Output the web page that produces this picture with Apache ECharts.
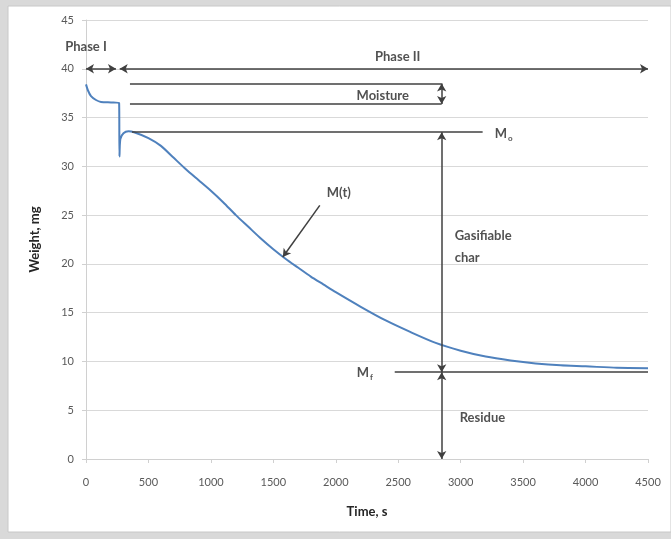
<!DOCTYPE html>
<html>
<head>
<meta charset="utf-8">
<script src="https://cdn.jsdelivr.net/npm/echarts@6/dist/echarts.min.js"></script>
<style>
  html, body { margin: 0; padding: 0; background: #d9d9d9; }
  #main { width: 671px; height: 539px; }
</style>
</head>
<body>
<div id="main"></div>
<script>
// weight curve (time s, weight mg)
var times = [0, 15, 40, 80, 120, 200, 265, 268, 275, 300, 340, 385, 500, 600, 700, 800, 900,
  1000, 1100, 1200, 1300, 1400, 1500, 1600, 1700, 1800, 1900, 2000, 2200, 2400, 2600, 2800,
  3000, 3200, 3400, 3600, 3800, 4000, 4250, 4500];
var weights = [38.4, 37.8, 37.2, 36.8, 36.6, 36.55, 36.5, 31.0, 32.8, 33.4, 33.6, 33.5, 32.9, 32.1, 30.9, 29.7, 28.6,
  27.5, 26.3, 25.0, 23.8, 22.6, 21.5, 20.5, 19.6, 18.7, 17.9, 17.1, 15.6, 14.2, 13.0, 11.9,
  11.1, 10.5, 10.1, 9.8, 9.6, 9.5, 9.35, 9.3];

var xTicks = [0, 500, 1000, 1500, 2000, 2500, 3000, 3500, 4000, 4500];
var yTicks = [0, 5, 10, 15, 20, 25, 30, 35, 40, 45];

// annotation segments in data units: [t1, w1, t2, w2, startSymbol, endSymbol]
var segments = [
  [0, 40, 240, 40, 'arrow', 'arrow'],
  [270, 40, 4500, 40, 'arrow', 'arrow'],
  [352, 38.5, 2848, 38.5, 'none', 'none'],
  [352, 36.4, 2848, 36.4, 'none', 'none'],
  [2848, 38.5, 2848, 36.4, 'arrow', 'arrow'],
  [368, 33.5, 3176, 33.5, 'none', 'none'],
  [2848, 33.5, 2848, 8.9, 'arrow', 'arrow'],
  [2848, 8.9, 2848, 0, 'arrow', 'arrow'],
  [2472, 8.9, 4500, 8.9, 'none', 'none'],
  [1872, 26.0, 1576, 20.7, 'none', 'arrow']
];

// text labels: [text, t, w, align]
var notes = [
  ['Phase I', 0, 42.3, 'center'],
  ['Phase II', 2496, 41.2, 'center'],
  ['Moisture', 2376, 37.2, 'center'],
  ['{m|M}{s|o}', 3272, 33.3, 'left'],
  ['M(t)', 1928, 27.3, 'left'],
  ['Gasifiable\nchar', 2952, 21.8, 'left'],
  ['{m|M}{s|f}', 2168, 8.8, 'left'],
  ['Residue', 2992, 4.2, 'left']
];

var chart = echarts.init(document.getElementById('main'));

var curve = times.map(function (t, i) { return [t, weights[i]]; });

var markLines = segments.map(function (s) {
  return [
    { coord: [s[0], s[1]], symbol: s[4] },
    { coord: [s[2], s[3]], symbol: s[5] }
  ];
});

var noteData = notes.map(function (n) {
  return {
    value: [n[1], n[2]],
    label: {
      formatter: n[0],
      position: n[3] === 'center' ? 'inside' : 'right',
      distance: 0,
      align: n[3] === 'center' ? 'center' : 'left'
    }
  };
});

var labelFont = 'Lato, "Open Sans", sans-serif';

chart.setOption({
  backgroundColor: '#d9d9d9',
  animation: false,
  graphic: [{
    type: 'rect',
    shape: { x: 8, y: 6, width: 663, height: 526 },
    style: { fill: '#ffffff', stroke: '#c8c8c8', lineWidth: 1 },
    z: -10
  }],
  grid: { left: 86, right: 23, top: 20, bottom: 80 },
  xAxis: {
    type: 'value',
    min: 0,
    max: 4500,
    interval: 500,
    name: 'Time, s',
    nameLocation: 'middle',
    nameGap: 46,
    nameTextStyle: { fontFamily: labelFont, fontWeight: 'bold', fontSize: 13, color: '#262626' },
    axisLine: { show: true, lineStyle: { color: '#d0d0d0' } },
    axisTick: { show: true, length: 4, lineStyle: { color: '#d0d0d0' } },
    axisLabel: {
      margin: 18, fontFamily: labelFont, fontSize: 11, color: '#595959',
      formatter: function (v) { return xTicks.indexOf(v) >= 0 ? String(v) : ''; }
    },
    splitLine: { show: false }
  },
  yAxis: {
    type: 'value',
    min: 0,
    max: 45,
    interval: 5,
    name: 'Weight, mg',
    nameLocation: 'middle',
    nameGap: 45,
    nameTextStyle: { fontFamily: labelFont, fontWeight: 'bold', fontSize: 13, color: '#262626' },
    axisLine: { show: true, lineStyle: { color: '#d0d0d0' } },
    axisTick: { show: true, length: 4, lineStyle: { color: '#d0d0d0' } },
    axisLabel: {
      margin: 12, fontFamily: labelFont, fontSize: 11, color: '#595959',
      formatter: function (v) { return yTicks.indexOf(v) >= 0 ? String(v) : ''; }
    },
    splitLine: { show: true, lineStyle: { color: '#d9d9d9' } }
  },
  series: [
    {
      type: 'line',
      data: curve,
      showSymbol: false,
      smooth: 0.25,
      lineStyle: { color: '#4f81bd', width: 2 },
      z: 3,
      markLine: {
        silent: true,
        symbolSize: [7, 8],
        label: { show: false },
        lineStyle: { color: '#404040', width: 1.5, type: 'solid' },
        emphasis: { disabled: true },
        data: markLines
      }
    },
    {
      type: 'scatter',
      symbolSize: 0,
      silent: true,
      data: noteData,
      label: {
        show: true,
        fontFamily: labelFont,
        fontWeight: 'bold',
        fontSize: 13,
        lineHeight: 22,
        color: '#262626',
        rich: {
          m: { fontFamily: labelFont, fontWeight: 'bold', fontSize: 13, color: '#262626' },
          s: { fontFamily: labelFont, fontWeight: 'bold', fontSize: 8, color: '#262626', padding: [8, 0, 0, 1] }
        }
      },
      z: 5
    }
  ]
});
</script>
</body>
</html>
